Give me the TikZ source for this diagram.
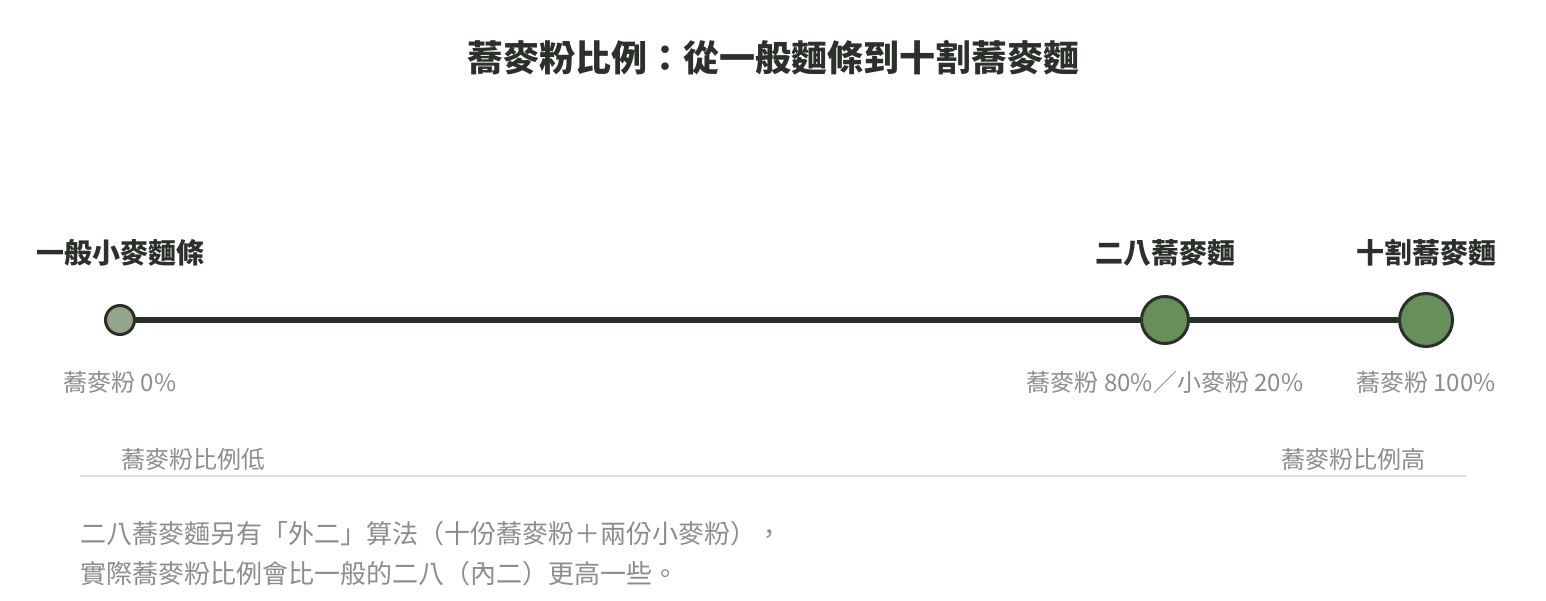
\documentclass[tikz,border=0pt]{standalone}
\usepackage{fontspec}
\newfontfamily\cjk{Noto Sans CJK TC}
\usepackage{tikz}
\usetikzlibrary{positioning}

\definecolor{ink}{HTML}{2B302B}
\definecolor{wheatfill}{HTML}{93A68A}
\definecolor{sobafill}{HTML}{668F5A}
\definecolor{muted}{HTML}{8A8E88}
\definecolor{rulecol}{HTML}{DCE3D5}

\begin{document}
\begin{tikzpicture}[
  x = 1pt,
  y = -1pt,
  stop/.style = {
    draw = ink,
    circle,
    line width = 3pt,
    inner sep = 0pt,
  },
  stopname/.style = {
    inner sep = 0pt,
    text = ink,
    font = \cjk\bfseries\fontsize{28}{34}\selectfont,
  },
  ratio/.style = {
    inner sep = 0pt,
    text = muted,
    font = \cjk\fontsize{24}{30}\selectfont,
  },
  remarktext/.style = {
    inner sep = 0pt,
    text = muted,
    align = left,
    font = \cjk\fontsize{26}{40}\selectfont,
  },
]

  \useasboundingbox (0,0) rectangle (1546,600);

  \node[stopname, font = \cjk\bfseries\fontsize{36}{42}\selectfont] (title) at (773,58)
    {蕎麥粉比例：從一般麵條到十割蕎麥麵};

  % timeline stops
  \node[stop, fill = wheatfill, minimum size = 29pt] (wheat) at (120,320) {};
  \node[stop, fill = sobafill, minimum size = 47pt] (nihachi) at (1165,320) {};
  \node[stop, fill = sobafill, minimum size = 53pt] (juwari) at (1426,320) {};
  \draw[ink, line width = 6pt] (wheat) -- (nihachi) -- (juwari);

  \node[stopname] (wheat-name) at (120,253) {一般小麥麵條};
  \node[stopname] (nihachi-name) at (1165,253) {二八蕎麥麵};
  \node[stopname] (juwari-name) at (1426,253) {十割蕎麥麵};

  \node[ratio] (wheat-ratio) at (120,382) {蕎麥粉 0\%};
  \node[ratio] (nihachi-ratio) at (1165,382) {蕎麥粉 80\%／小麥粉 20\%};
  \node[ratio] (juwari-ratio) at (1426,382) {蕎麥粉 100\%};

  % scale ends
  \node[ratio, anchor = west] (low) at (121,459) {蕎麥粉比例低};
  \node[ratio, anchor = east] (high) at (1426,459) {蕎麥粉比例高};
  \coordinate (rule-l) at (80,476);
  \coordinate (rule-r) at (1466,476);
  \draw[rulecol, line width = 2pt] (rule-l) -- (rule-r);

  \node[remarktext, anchor = base west] (remark) at (80,583)
    {二八蕎麥麵另有「外二」算法（十份蕎麥粉＋兩份小麥粉），\\
     實際蕎麥粉比例會比一般的二八（內二）更高一些。};

\end{tikzpicture}
\end{document}
